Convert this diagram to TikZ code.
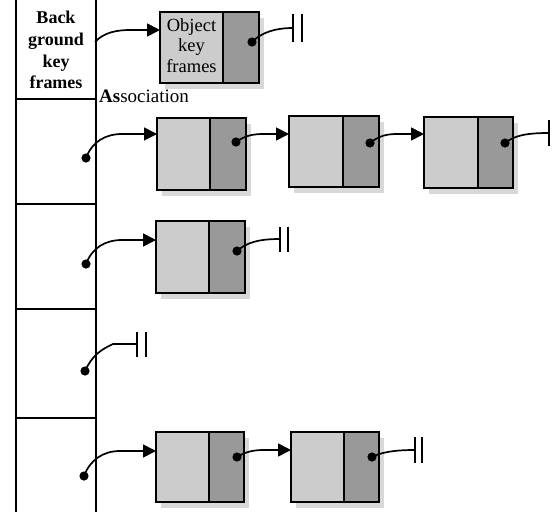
\documentclass[tikz,border=0pt]{standalone}
\usepackage{fontspec}
\setmainfont{Liberation Serif}
\usetikzlibrary{arrows.meta,backgrounds}
\definecolor{lightg}{HTML}{CCCCCC}
\definecolor{darkg}{HTML}{999999}
\definecolor{shadg}{HTML}{D8D8D8}
\newcommand\cellbox[7]{%
  \node[lpart,minimum width=#4pt,minimum height=#6pt] (#1L) at (#2,#3) {#7};
  \node[dpart,minimum width=#5pt,minimum height=#6pt] (#1R) at (#1L.north east) {};
  \begin{scope}[on background layer]
    \fill[shadg] ([xshift=5pt,yshift=-6pt]#1L.north west) rectangle ([xshift=5pt,yshift=-6pt]#1R.south east);
  \end{scope}}
\newcommand\termbar[4]{% coordinate, gap, half height, count
  \draw[barline] ([yshift=#3pt]#1) -- ([yshift=-#3pt]#1);
  \ifnum#4>1 \draw[barline] ([xshift=#2pt,yshift=#3pt]#1) -- ([xshift=#2pt,yshift=-#3pt]#1);\fi}
\begin{document}
\begin{tikzpicture}[x=1pt,y=-1pt,
  lpart/.style={draw,fill=lightg,line width=1.7pt,inner sep=0pt,outer sep=0pt,anchor=north west},
  dpart/.style={draw,fill=darkg,line width=1.7pt,inner sep=0pt,outer sep=0pt,anchor=north west},
  conn/.style={line width=1.7pt},
  arr/.style={conn,-{Triangle[length=13pt,width=13pt]}},
  barline/.style={line width=1.9pt},
  col/.style={line width=2.6pt},
  dot/.style={fill=black}]
\useasboundingbox (0,0) rectangle (555,512);
% left column
\coordinate (cTL) at (16,0); \coordinate (cBL) at (16,512);
\coordinate (cTR) at (96,0); \coordinate (cBR) at (96,512);
\draw[col] (cTL) -- (cBL);
\draw[col] (cTR) -- (cBR);
\foreach \yy/\nm in {99/s1,204/s2,309/s3,418/s4}{
  \coordinate (\nm a) at (16,\yy); \coordinate (\nm b) at (96,\yy);
  \draw[col] (\nm a) -- (\nm b);}
\node[font=\fontsize{18}{21.7}\selectfont\bfseries,align=center,inner sep=0pt] (hdr) at (56,50) {Back\\ground\\key\\frames};
\node[font=\fontsize{19}{20}\selectfont,anchor=base west,inner sep=0pt] (assoc) at (99,102) {\textbf{As}sociation};
% boxes
\cellbox{h}{160}{12}{63}{36}{71}{\fontsize{18.5}{20.5}\selectfont\begin{tabular}{@{}c@{}}Object\\key\\frames\end{tabular}}
\cellbox{a}{157}{118}{53}{36}{72}{}
\cellbox{b}{289}{116}{54}{36}{71}{}
\cellbox{c}{424}{117}{54}{35}{71}{}
\cellbox{d}{156}{221}{53}{36}{72}{}
\cellbox{e}{156}{432}{53}{35}{70}{}
\cellbox{f}{291}{432}{53}{35}{70}{}
% dots
\coordinate (h0) at (95,42);
\coordinate (hd) at (252,42);
\coordinate (l1) at (86,158);
\coordinate (l2) at (86,264);
\coordinate (l3) at (85,371);
\coordinate (l4) at (84,476);
\coordinate (ad) at (236,142);
\coordinate (bd) at (370,143);
\coordinate (cd) at (505,143);
\coordinate (dd) at (237,251);
\coordinate (ed) at (237,457);
\coordinate (fd) at (372,457);
\foreach \p in {hd,l1,l2,l3,l4,ad,bd,cd,dd,ed,fd} \fill[dot] (\p) circle (4.6pt);
% terminator points
\coordinate (th) at (293,28);
\coordinate (tc) at (549,133);
\coordinate (td) at (280,239);
\coordinate (t3) at (137,344);
\coordinate (tf) at (415,450);
% connectors
\draw[arr] (h0) .. controls (104,32) and (118,30) .. (130,30) -- ([yshift=-18pt]hL.north west);
\draw[conn] (hd) .. controls (262,32) and (276,28) .. (th);
\termbar{th}{9}{14}{2}
\draw[arr] (l1) .. controls (92,142) and (105,134) .. (122,134) -- ([yshift=-16pt]aL.north west);
\draw[arr] (ad) .. controls (246,135) and (254,134) .. (264,134) -- ([yshift=-18pt]bL.north west);
\draw[arr] (bd) .. controls (380,135) and (388,134) .. (398,134) -- ([yshift=-17pt]cL.north west);
\draw[conn] (cd) .. controls (515,135) and (528,133) .. (tc);
\termbar{tc}{9}{13}{1}
\draw[arr] (l2) .. controls (92,248) and (105,240) .. (122,240) -- ([yshift=-19pt]dL.north west);
\draw[conn] (dd) .. controls (247,242) and (260,239) .. (td);
\termbar{td}{8}{12.5}{2}
\draw[conn] (l3) .. controls (92,356) and (100,350) .. (113,344) -- (t3);
\termbar{t3}{9}{12.5}{2}
\draw[arr] (l4) .. controls (90,460) and (103,451) .. (120,451) -- ([yshift=-19pt]eL.north west);
\draw[arr] (ed) .. controls (247,451) and (255,450) .. (264,450) -- ([yshift=-18pt]fL.north west);
\draw[conn] (fd) .. controls (382,452) and (395,450) .. (tf);
\termbar{tf}{7}{13}{2}
\end{tikzpicture}
\end{document}
